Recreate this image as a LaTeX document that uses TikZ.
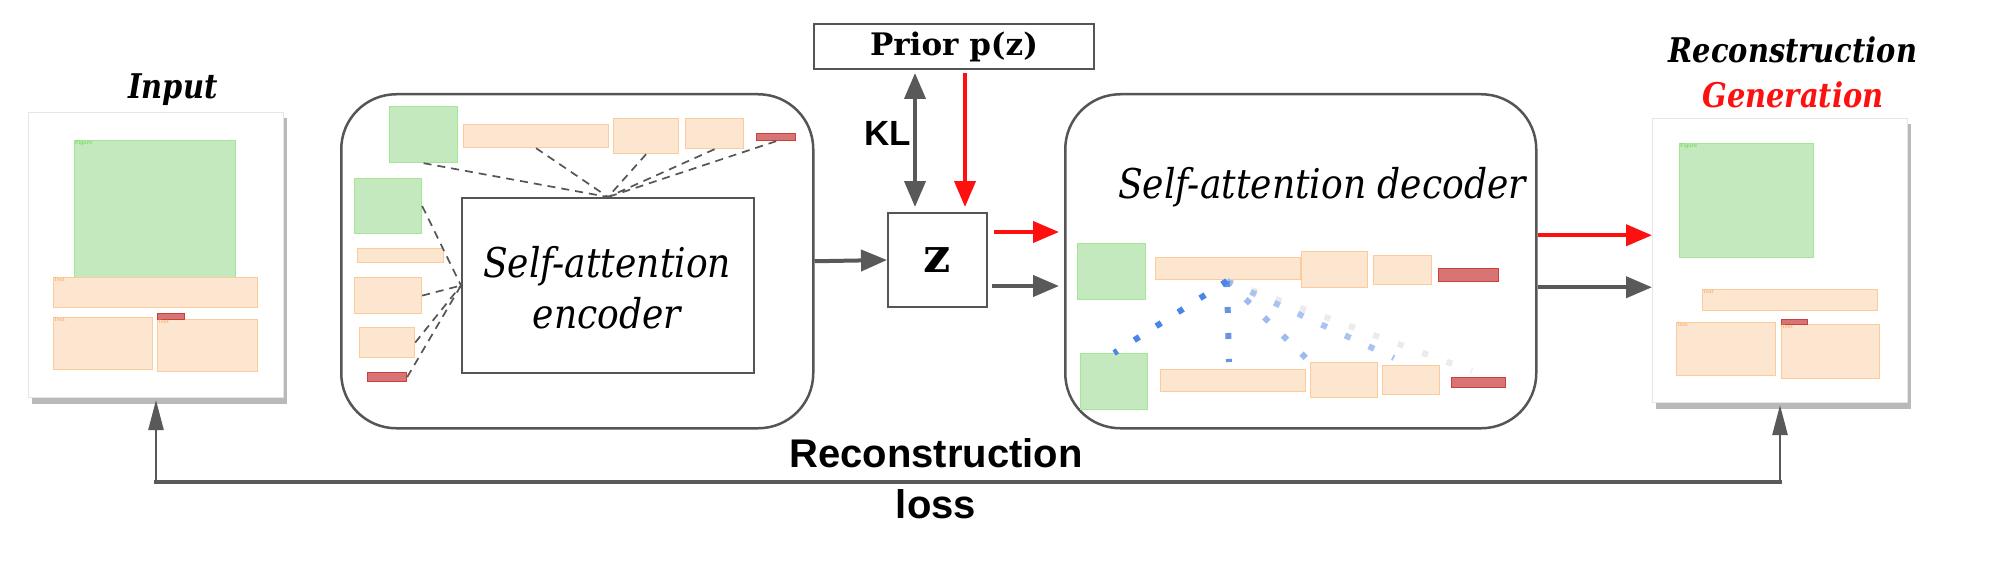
\documentclass[tikz,border=0pt]{standalone}
\usepackage{fontspec}
\setmainfont{DejaVu Serif}
\newfontfamily\serifit{DejaVu Serif Italic}[FakeStretch=0.88]
\newfontfamily\serifbi{DejaVu Serif Bold Italic}[FakeStretch=0.85]
\newfontfamily\sansbf{Liberation Sans}[BoldFont={Liberation Sans Bold}]
\usetikzlibrary{arrows.meta,shadows}
\definecolor{arrgray}{HTML}{595959}
\definecolor{boxgray}{HTML}{555555}
\definecolor{figfill}{HTML}{C5E9BE}
\definecolor{figline}{HTML}{A3E694}
\definecolor{figtext}{HTML}{5CD84A}
\definecolor{txtfill}{HTML}{FDE6D0}
\definecolor{txtline}{HTML}{FCCB9C}
\definecolor{txttext}{HTML}{F2A35E}
\definecolor{hdrfill}{HTML}{D97474}
\definecolor{hdrline}{HTML}{C9403C}
\definecolor{dotA}{HTML}{4A86E8}
\definecolor{dotB}{HTML}{6694E2}
\definecolor{dotC}{HTML}{9DBBF0}
\definecolor{dotD}{HTML}{A9C4F1}
\definecolor{dotE}{HTML}{EBEBEB}
\definecolor{redarr}{HTML}{FF1010}
\newcommand\bx[6]{\node[#2,anchor=north west,minimum width={(#5-#3)*1pt},minimum height={(#6-#4)*1pt}] (#1) at (#3,#4) {};}
\begin{document}
\begin{tikzpicture}[x=1pt,y=-1pt,
  fig/.style={fill=figfill,draw=figline,line width=1.2pt,inner sep=0pt},
  txt/.style={fill=txtfill,draw=txtline,line width=1.2pt,inner sep=0pt},
  hdr/.style={fill=hdrfill,draw=hdrline,line width=1.2pt,inner sep=0pt},
  tiny/.style={font=\fontsize{5}{5}\selectfont,inner sep=1pt,anchor=north west},
  page/.style={fill=white,draw=black!10,line width=1pt,inner sep=0pt,
     drop shadow={shadow xshift=3pt,shadow yshift=-6pt,fill=black!50,opacity=0.55}},
  bigbox/.style={draw=boxgray,line width=2.5pt,rounded corners=55pt,inner sep=0pt},
  garr/.style={draw=arrgray,line width=4pt,-{Triangle[length=26pt,width=21pt]}},
  rarr/.style={draw=redarr,line width=4pt,-{Triangle[length=26pt,width=21pt]}},
  dline/.style={draw=boxgray,line width=1.7pt,dash pattern=on 8pt off 6pt},
  bdots/.style={line width=6pt,dash pattern=on 6pt off 20pt},
  lbl/.style={font=\serifbi\fontsize{34}{40}\selectfont,inner sep=0pt},
  sanslbl/.style={font=\sansbf\bfseries\fontsize{40}{46}\selectfont,inner sep=0pt},
  lossarr/.style={draw=arrgray,line width=2.5pt,-{Triangle[length=30pt,width=15pt]}}
]
\useasboundingbox[fill=white] (0,0) rectangle (2009,567);

% ---------- input page ----------
\bx{inbox}{page}{28}{112}{283}{397}
\bx{ig}{fig}{74}{140}{235}{277}
\bx{it1}{txt}{53}{277}{257}{307}
\bx{it2}{txt}{53}{317}{152}{369}
\bx{it3}{txt}{157}{319}{257}{371}
\bx{ih}{hdr}{157}{313}{184}{319}
\node[tiny,text=figtext] at (ig.north west) {Figure};
\node[tiny,text=txttext] at (it1.north west) {Text};
\node[tiny,text=txttext] at (it2.north west) {Text};
\node[tiny,text=txttext] at (it3.north west) {Text};
\node[lbl] (inlbl) at (173,90) {Input};

% ---------- encoder ----------
\bx{encbox}{bigbox}{340}{93}{812}{427}
\bx{eg1}{fig}{389}{106}{457}{162}
\bx{eo1}{txt}{463}{124}{608}{147}
\bx{eo2}{txt}{613}{118}{678}{153}
\bx{eo3}{txt}{685}{118}{743}{148}
\bx{er1}{hdr}{756}{133}{795}{140}
\bx{eg2}{fig}{354}{178}{421}{233}
\bx{eo4}{txt}{357}{248}{443}{262}
\bx{eo5}{txt}{354}{277}{421}{313}
\bx{eo6}{txt}{359}{327}{414}{357}
\bx{er2}{hdr}{367}{372}{406}{381}
\node[draw=boxgray,line width=2pt,anchor=north west,minimum width=292pt,minimum height=175pt,inner sep=0pt] (enc) at (461,197) {};
\node[font=\serifit\fontsize{41}{51}\selectfont,align=center,inner sep=0pt] (enctxt) at (607,288) {Self-attention\\encoder};
\foreach \s in {eg1,eo1,eo2,eo3,er1} \draw[dline] (\s.south) -- (enc.north);
\foreach \s in {eg2,eo5,eo6,er2} \draw[dline] (\s.east) -- (enc.west);

% ---------- prior, KL, z ----------
\node[draw=boxgray,line width=2pt,minimum width=280pt,minimum height=45pt,inner sep=0pt,
      font=\bfseries\fontsize{31}{36}\selectfont] (prior) at (954,46.5) {Prior p(z)};
\node[draw=boxgray,line width=2pt,minimum width=99pt,minimum height=94pt,inner sep=0pt,
      font=\bfseries\fontsize{48}{50}\selectfont] (z) at (937.5,260) {z};
\draw[draw=arrgray,line width=4pt,{Triangle[length=26pt,width=21pt]}-{Triangle[length=26pt,width=21pt]},shorten <=3pt,shorten >=5pt]
   ([xshift=-22.5pt]z.north |- prior.south) -- ([xshift=-22.5pt]z.north);
\draw[rarr,shorten <=3pt,shorten >=5pt] ([xshift=27.5pt]z.north |- prior.south) -- ([xshift=27.5pt]z.north);
\node[sanslbl,font=\sansbf\bfseries\fontsize{35}{40}\selectfont] (kl) at (888,133) {KL};

% ---------- decoder ----------
\bx{decbox}{bigbox}{1064}{93}{1535}{427}
\node[font=\serifit\fontsize{41}{51}\selectfont,inner sep=0pt] (dectxt) at (1322,187) {Self-attention decoder};
\bx{dg1}{fig}{1077}{243}{1145}{299}
\bx{do1}{txt}{1155}{257}{1300}{279}
\bx{do2}{txt}{1301}{251}{1367}{287}
\bx{do3}{txt}{1373}{255}{1431}{284}
\bx{dr1}{hdr}{1438}{268}{1498}{281}
\bx{dg2}{fig}{1080}{353}{1147}{409}
\bx{db1}{txt}{1160}{369}{1305}{391}
\bx{db2}{txt}{1310}{362}{1377}{397}
\bx{db3}{txt}{1382}{365}{1439}{394}
\bx{dr2}{hdr}{1451}{377}{1505}{387}
\coordinate (att) at (1227,281);
\coordinate (aE) at (1472,371);
\coordinate (aB) at (1229,362);
\coordinate (aD) at (1394,358);
\draw[bdots,draw=dotE] (att) -- (aE);
\draw[bdots,draw=dotD] (att) -- (aD);
\draw[bdots,draw=dotC] (att) -- (db2.north west);
\draw[bdots,draw=dotB] (att) -- (aB);
\draw[bdots,draw=dotA] (att) -- (dg2.north);

% ---------- output page ----------
\bx{outbox}{page}{1652}{118}{1907}{402}
\bx{og}{fig}{1679}{143}{1813}{257}
\bx{ot1}{txt}{1702}{289}{1877}{310}
\bx{ot2}{txt}{1676}{322}{1775}{375}
\bx{ot3}{txt}{1781}{324}{1879}{378}
\bx{oh}{hdr}{1781}{319}{1807}{324}
\node[tiny,text=figtext] at (og.north west) {Figure};
\node[tiny,text=txttext] at (ot1.north west) {Text};
\node[tiny,text=txttext] at (ot2.north west) {Text};
\node[tiny,text=txttext] at (ot3.north west) {Text};
\node[lbl] (reclbl) at (1793,50) {Reconstruction};
\node[lbl,text=redarr] (genlbl) at (1793,95) {Generation};

% ---------- main connectors ----------
\draw[garr] (encbox.east) -- (z.west);
\draw[rarr,shorten <=6pt,shorten >=5pt] ([yshift=28pt]z.east) -- ([yshift=28pt]z.east -| decbox.west);
\draw[garr,shorten <=4pt,shorten >=5pt] ([yshift=-26pt]z.east) -- ([yshift=-26pt]z.east -| decbox.west);
\draw[rarr] ([yshift=26pt]decbox.east) -- ([yshift=26pt]decbox.east -| outbox.west);
\draw[garr] ([yshift=-26pt]decbox.east) -- ([yshift=-26pt]decbox.east -| outbox.west);

% ---------- reconstruction loss ----------
\coordinate (lossy) at (0,482);
\coordinate (lossL) at (inbox.south |- lossy);
\coordinate (lossR) at (outbox.south |- lossy);
\draw[draw=arrgray,line width=3.5pt,line cap=rect] (lossL) -- (lossR);
\draw[lossarr] (lossL) -- ([yshift=-2pt]inbox.south);
\draw[lossarr] (lossR) -- ([yshift=-2pt]outbox.south);
\node[sanslbl] (loss1) at (936,453) {Reconstruction};
\node[sanslbl] (loss2) at (936,504) {loss};
\end{tikzpicture}
\end{document}
